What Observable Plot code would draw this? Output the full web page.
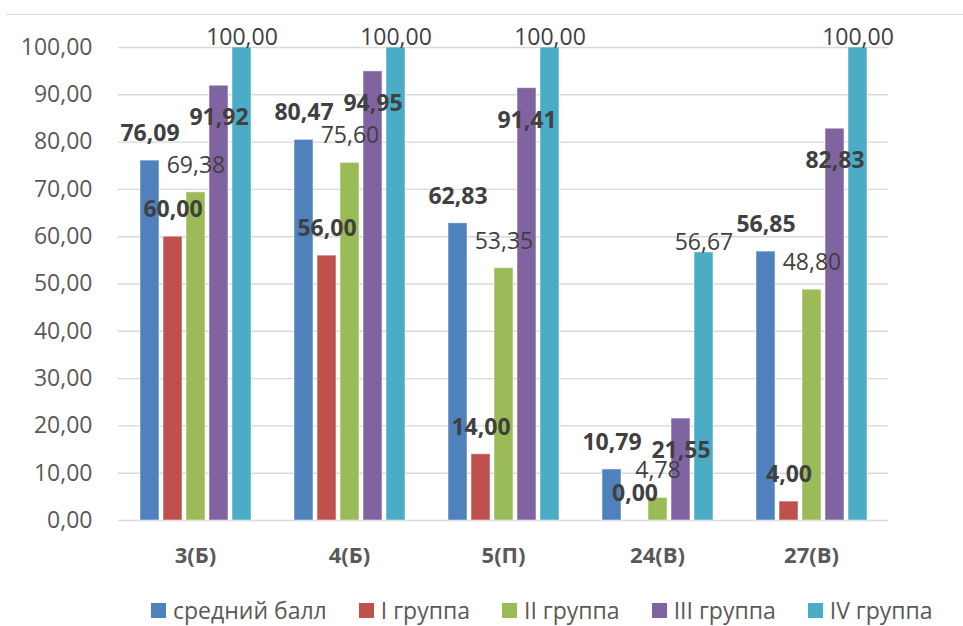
<!DOCTYPE html>
<html>
<head>
<meta charset="utf-8">
<script src="https://cdn.jsdelivr.net/npm/d3@7"></script>
<script src="https://cdn.jsdelivr.net/npm/@observablehq/plot@0.6"></script>
<style>
  html, body { margin: 0; padding: 0; background: #fff; overflow: hidden; }
  #wrap { position: relative; width: 963px; height: 626px; }
  #topline { position: absolute; left: 6px; right: 0; top: 14px; border-top: 1.5px solid #d9d9d9; }
  #legend { position: absolute; left: 151px; top: 598px; display: flex; gap: 32px;
            font-family: "Open Sans", sans-serif; font-size: 23px; color: #595959; line-height: 24px; white-space: nowrap; }
  #legend .item { display: flex; align-items: center; gap: 7px; }
  #legend .sw { width: 15px; height: 15px; display: inline-block; }
</style>
</head>
<body>
<div id="wrap">
  <div id="chart"></div>
  <div id="topline"></div>
  <div id="legend"></div>
</div>
<script>
const categories = ["3(Б)", "4(Б)", "5(П)", "24(В)", "27(В)"];
const seriesNames = ["средний балл", "I группа", "II группа", "III группа", "IV группа"];
const avgScore = [76.09, 80.47, 62.83, 10.79, 56.85];
const group1 = [60.00, 56.00, 14.00, 0.00, 4.00];
const group2 = [69.38, 75.60, 53.35, 4.78, 48.80];
const group3 = [91.92, 94.95, 91.41, 21.55, 82.83];
const group4 = [100.00, 100.00, 100.00, 56.67, 100.00];
const yTicks = [0, 10, 20, 30, 40, 50, 60, 70, 80, 90, 100];

// styles
const colors = ["#4F81BD", "#C0504D", "#9BBB59", "#8064A2", "#4BACC6"];
const labelDy = [-27, -27, -27, 32, -10];
const labelWeight = ["bold", "bold", "normal", "bold", "normal"];

const seriesValues = [avgScore, group1, group2, group3, group4];
const rows = [];
categories.forEach((c, ci) => seriesNames.forEach((s, si) => rows.push({cat: c, ser: s, value: seriesValues[si][ci]})));

const fmt = d => d.toFixed(2).replace(".", ",");
const fxDomain = [...categories, " "];

const chart = Plot.plot({
  width: 963,
  height: 590,
  marginLeft: 118,
  marginRight: 0,
  marginTop: 47,
  marginBottom: 70,
  style: {fontFamily: "Open Sans, sans-serif", fontSize: "23px", color: "#595959", background: "white"},
  fx: {domain: fxDomain, range: [118, 118 + 154 * 6], paddingInner: 0, paddingOuter: 0, label: null},
  x: {domain: seriesNames, paddingInner: 0.19, paddingOuter: 0.87, axis: null},
  y: {domain: [0, 100], label: null},
  color: {domain: seriesNames, range: colors},
  marks: [
    Plot.ruleY(yTicks, {stroke: "#d9d9d9", strokeWidth: 1.4}),
    Plot.axisY(yTicks, {tickSize: 0, tickPadding: 26, tickFormat: fmt, fill: "#595959", label: null, fontSize: 23}),
    Plot.axisFx({anchor: "bottom", tickSize: 0, tickPadding: 27, fontWeight: "bold", fill: "#595959", label: null, fontSize: 22}),
    Plot.barY(rows, {fx: "cat", x: "ser", y: "value", fill: "ser", stroke: "#ffffff", strokeOpacity: 0.5, strokeWidth: 1}),
    ...seriesNames.map((s, i) => Plot.text(rows.filter(r => r.ser === s), {
      fx: "cat", x: "ser", y: "value", text: d => fmt(d.value),
      dy: labelDy[i], fontWeight: labelWeight[i], fill: "#404040", fontSize: 23
    }))
  ]
});
document.getElementById("chart").appendChild(chart);

const legend = document.getElementById("legend");
seriesNames.forEach((s, i) => {
  const item = document.createElement("div");
  item.className = "item";
  const sw = document.createElement("span");
  sw.className = "sw";
  sw.style.background = colors[i];
  const t = document.createElement("span");
  t.textContent = s;
  item.appendChild(sw);
  item.appendChild(t);
  legend.appendChild(item);
});
</script>
</body>
</html>
